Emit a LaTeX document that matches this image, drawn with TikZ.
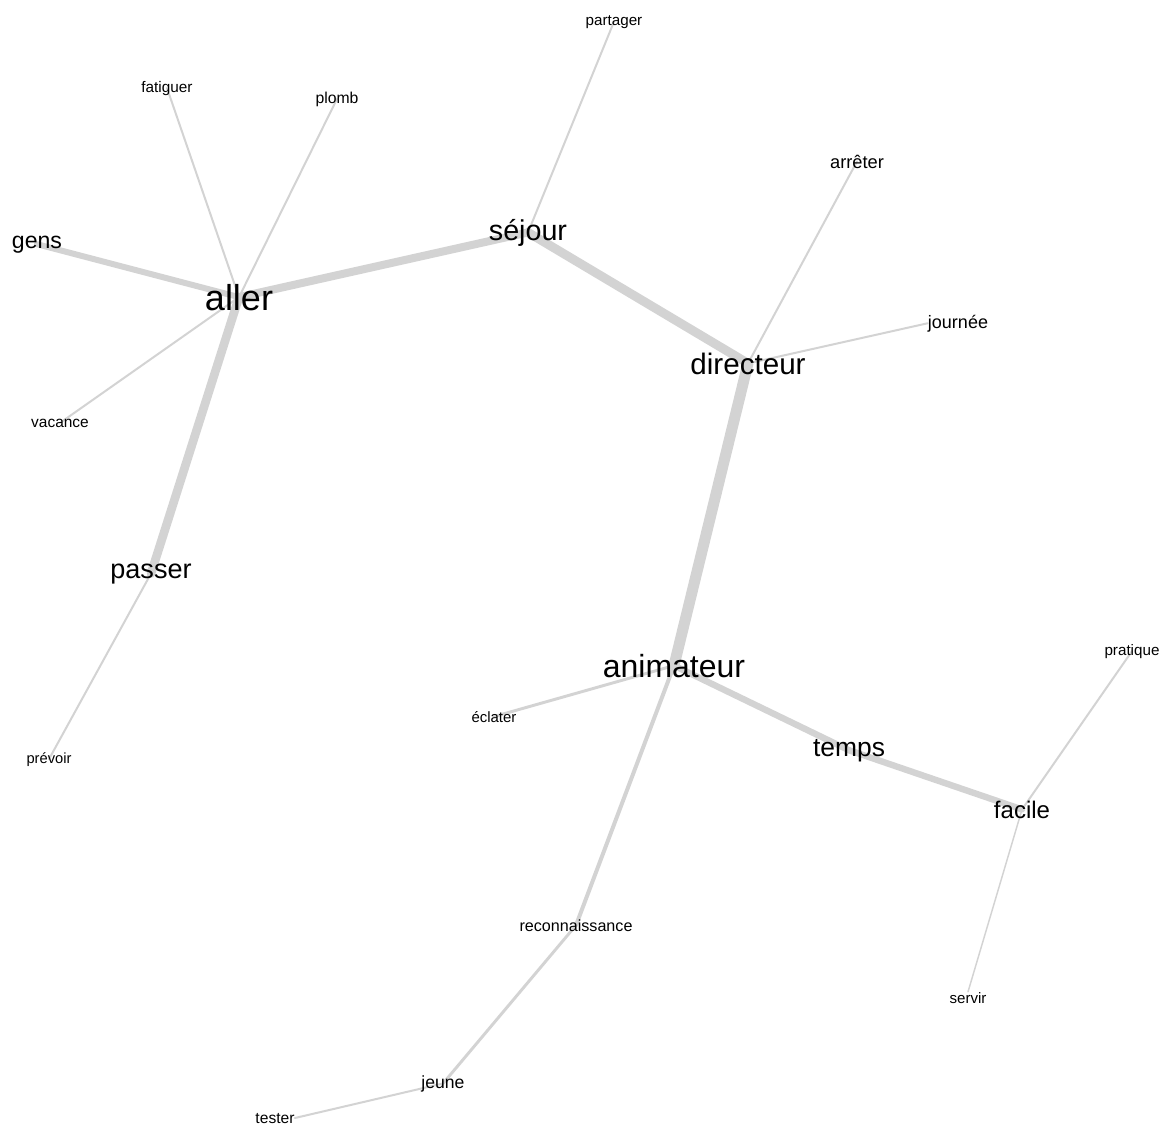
\documentclass[tikz,border=0pt]{standalone}
\usepackage{fontspec}
\setmainfont{Liberation Sans}
\usepackage{tikz}
\usetikzlibrary{backgrounds}
\definecolor{edgegray}{RGB}{211,211,211}

\begin{document}
\begin{tikzpicture}[
    x=0.75pt, y=-0.75pt,
    word/.style={inner sep=0pt, anchor=base, text=black, font=\fontsize{#1}{#1}\selectfont},
    link/.style={draw=edgegray, line width=#1, line cap=round}
]
    \useasboundingbox (0,0) rectangle (1164,1129);

    % main words
    \node[word=27] (aller) at (239,310) {aller};
    \node[word=21.5] (sejour) at (528,240) {séjour};
    \node[word=22.2] (directeur) at (748,374) {directeur};
    \node[word=24] (animateur) at (674,677) {animateur};
    \node[word=20.3] (passer) at (151,578) {passer};
    \node[word=19.8] (temps) at (849,756) {temps};
    \node[word=18] (facile) at (1022,818) {facile};
    \node[word=17.3] (gens) at (37,248) {gens};

    % small words
    \node[word=11.4] (partager) at (614,25) {partager};
    \node[word=11.5] (fatiguer) at (167,92) {fatiguer};
    \node[word=11.8] (plomb) at (337,103) {plomb};
    \node[word=11.6] (vacance) at (60,427) {vacance};
    \node[word=11] (prevoir) at (49,763) {prévoir};
    \node[word=13.7] (arreter) at (857,168) {arrêter};
    \node[word=13.5] (journee) at (958,328) {journée};
    \node[word=11.2] (eclater) at (494,722) {éclater};
    \node[word=11.4] (pratique) at (1132,655) {pratique};
    \node[word=11.3] (servir) at (968,1003) {servir};
    \node[word=12.1] (reconnaissance) at (576,931) {reconnaissance};
    \node[word=13.2] (jeune) at (443,1088) {jeune};
    \node[word=11.7] (tester) at (275,1123) {tester};

    \begin{scope}[on background layer]
        \draw[link=8.25pt] (directeur.center) -- (animateur.center);
        \draw[link=6.75pt] (sejour.center) -- (directeur.center);
        \draw[link=6pt] (aller.center) -- (sejour.center);
        \draw[link=6.5pt] (aller.center) -- (passer.center);
        \draw[link=4.5pt] (aller.center) -- (gens.center);
        \draw[link=4.8pt] (animateur.center) -- (temps.center);
        \draw[link=4.8pt] (temps.center) -- (facile.center);
        \draw[link=3pt] (animateur.center) -- (reconnaissance.center);
        \draw[link=2.2pt] (animateur.center) -- (eclater.center);
        \draw[link=2.2pt] (reconnaissance.center) -- (jeune.center);
        \foreach \a/\b in {aller/fatiguer, aller/plomb, aller/vacance, sejour/partager,
                           directeur/arreter, passer/prevoir, facile/pratique}
            \draw[link=1.5pt] (\a.center) -- (\b.center);
        \draw[link=1.5pt] (directeur.center) -- (journee.west);
        \draw[link=1.5pt] (jeune.center) -- (tester.east);
        \draw[link=1.1pt] (facile.center) -- (servir.north);
    \end{scope}
\end{tikzpicture}
\end{document}
